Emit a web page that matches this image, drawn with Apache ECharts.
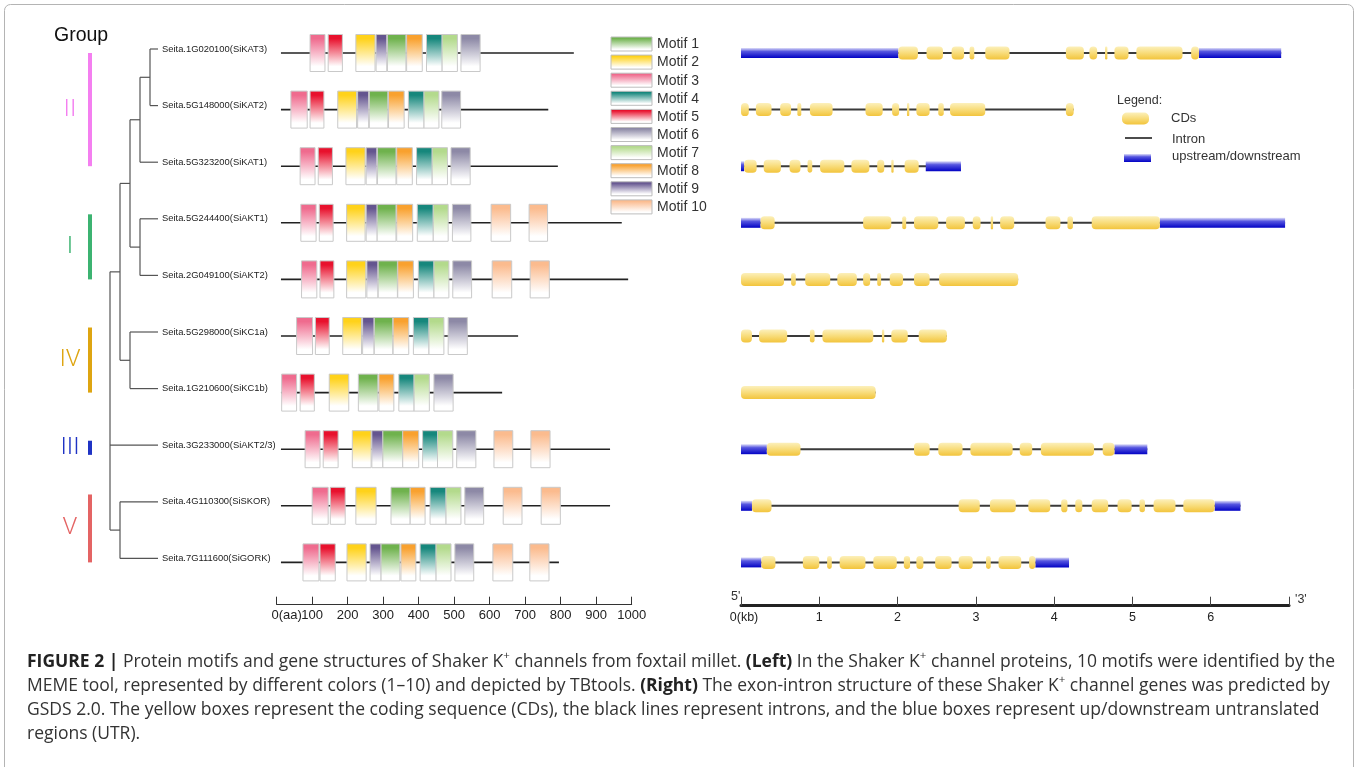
<!DOCTYPE html>
<html lang="en">
<head>
<meta charset="UTF-8">
<title>Shaker K+ channels: motifs and gene structures</title>
<script src="https://cdn.jsdelivr.net/npm/echarts@6/dist/echarts.min.js"></script>
<style>
  html, body { margin: 0; padding: 0; background: #fff; }
  #chart { width: 1360px; height: 767px; }
</style>
</head>
<body>
<div id="chart"></div>
<script>
// genes, top to bottom (same order in tree, motifs and gene structures)
const geneNames = [
  'Seita.1G020100(SiKAT3)', 'Seita.5G148000(SiKAT2)', 'Seita.5G323200(SiKAT1)',
  'Seita.5G244400(SiAKT1)', 'Seita.2G049100(SiAKT2)', 'Seita.5G298000(SiKC1a)',
  'Seita.1G210600(SiKC1b)', 'Seita.3G233000(SiAKT2/3)', 'Seita.4G110300(SiSKOR)',
  'Seita.7G111600(SiGORK)'
];

// groups: row span of the coloured bar
const groupNames = ['II', 'I', 'IV', 'III', 'V'];
const groupColors = ['#f47ff0', '#3cb371', '#dea511', '#1f33c4', '#e46464'];
const groupFrom = [0, 2.85, 4.85, 6.85, 7.8];
const groupTo = [2, 4, 6, 7.1, 9];

// tree: numbers are leaf rows, d = node depth (root = 0)
const tree = {d: 0, c: [
  {d: 1, c: [
    {d: 2, c: [
      {d: 3, c: [{d: 4, c: [0, 1]}, 2]},
      {d: 3, c: [3, 4]}
    ]},
    {d: 2, c: [5, 6]}
  ]},
  7,
  {d: 1, c: [8, 9]}
]};
const leafDepth = 4.8;

// motifs
const motifNames = ['Motif 1', 'Motif 2', 'Motif 3', 'Motif 4', 'Motif 5',
                    'Motif 6', 'Motif 7', 'Motif 8', 'Motif 9', 'Motif 10'];
const motifColors = ['#6fb24d', '#ffd21a', '#ef6b8e', '#16877c', '#e8112d',
                     '#8d89a6', '#b3da8c', '#f9a12e', '#64558f', '#fbbb8e'];
const proteinStart = 12;
const proteinLen = [837, 765, 792, 972, 990, 680, 635, 939, 939, 795];
// [motif, start aa, end aa] per protein
const motifHits = [
  [[3,94,136],[5,145,185],[2,223,277],[9,280,310],[1,312,364],[8,366,410],[4,422,466],[7,466,509],[6,519,573]],
  [[3,40,86],[5,94,133],[2,172,225],[9,228,259],[1,261,313],[8,315,359],[4,371,415],[7,415,457],[6,465,518]],
  [[3,66,108],[5,117,157],[2,195,249],[9,252,282],[1,284,336],[8,338,382],[4,394,438],[7,438,481],[6,491,545]],
  [[3,68,111],[5,120,159],[2,197,249],[9,252,283],[1,283,336],[8,338,383],[4,396,441],[7,441,483],[6,495,547],[10,604,659],[10,711,763]],
  [[3,70,113],[5,122,161],[2,197,251],[9,254,285],[1,286,340],[8,341,385],[4,399,443],[7,443,485],[6,496,549],[10,607,662],[10,714,768]],
  [[3,56,101],[5,109,148],[2,186,239],[9,242,274],[1,275,327],[8,328,372],[4,385,429],[7,429,471],[6,483,537]],
  [[3,14,56],[5,66,106],[2,148,203],[1,230,285],[8,288,330],[4,344,387],[7,387,430],[6,443,497]],
  [[3,80,122],[5,131,173],[2,213,266],[9,268,299],[1,299,355],[8,355,400],[4,411,453],[7,453,496],[6,507,561],[10,612,665],[10,716,770]],
  [[3,100,145],[5,151,193],[2,223,280],[1,322,376],[8,376,418],[4,432,477],[7,477,519],[6,530,583],[10,638,691],[10,745,799]],
  [[3,74,119],[5,122,165],[2,198,252],[9,263,294],[1,294,347],[8,350,392],[4,404,449],[7,449,491],[6,502,555],[10,609,665],[10,713,767]]
];

// gene structures (kb)
const geneLen = [6.90, 4.25, 2.81, 6.95, 3.54, 2.63, 1.72, 5.19, 6.38, 4.19];
const utrParts = [
  [[0,2.01],[5.85,6.90]], [], [[0,0.04],[2.36,2.81]], [[0,0.25],[5.35,6.95]], [], [], [],
  [[0,0.33],[4.77,5.19]], [[0,0.14],[6.05,6.38]], [[0,0.26],[3.76,4.19]]
];
const cdsParts = [
  [[2.01,2.26],[2.37,2.58],[2.69,2.85],[2.92,2.98],[3.12,3.43],[4.15,4.38],[4.45,4.55],[4.65,4.68],[4.77,4.95],[5.05,5.64],[5.75,5.85]],
  [[0,0.10],[0.19,0.39],[0.50,0.64],[0.72,0.77],[0.88,1.17],[1.59,1.81],[1.93,2.02],[2.12,2.15],[2.24,2.41],[2.52,2.59],[2.67,3.12],[4.15,4.25]],
  [[0.04,0.20],[0.29,0.51],[0.62,0.76],[0.85,0.91],[1.01,1.32],[1.41,1.64],[1.74,1.83],[1.92,1.95],[2.09,2.27]],
  [[0.25,0.43],[1.56,1.92],[2.06,2.11],[2.21,2.52],[2.62,2.86],[2.96,3.06],[3.19,3.22],[3.31,3.49],[3.89,4.08],[4.17,4.24],[4.48,5.35]],
  [[0,0.55],[0.64,0.70],[0.82,1.14],[1.23,1.48],[1.56,1.65],[1.74,1.79],[1.90,2.07],[2.21,2.41],[2.53,3.54]],
  [[0,0.14],[0.23,0.59],[0.88,0.94],[1.04,1.69],[1.80,1.83],[1.92,2.13],[2.27,2.63]],
  [[0,1.72]],
  [[0.33,0.76],[2.21,2.41],[2.52,2.83],[2.93,3.47],[3.56,3.72],[3.83,4.51],[4.62,4.77]],
  [[0.14,0.39],[2.78,3.05],[3.18,3.51],[3.67,3.95],[4.09,4.17],[4.27,4.36],[4.48,4.69],[4.81,4.99],[5.09,5.16],[5.27,5.55],[5.65,6.05]],
  [[0.26,0.44],[0.79,1.00],[1.10,1.16],[1.26,1.59],[1.69,1.99],[2.08,2.16],[2.24,2.33],[2.48,2.69],[2.78,2.96],[3.13,3.19],[3.29,3.58],[3.68,3.76]]
];

const FONT = 'Liberation Sans, Arial, Helvetica, sans-serif';
const CAP_FONT = 'Open Sans, Liberation Sans, Arial, sans-serif';
const LG = echarts.graphic.LinearGradient;

function motifFill(c) {
  return new LG(0, 0, 0, 1, [
    {offset: 0, color: c}, {offset: 0.12, color: c},
    {offset: 0.85, color: '#ffffff'}, {offset: 1, color: '#ffffff'}
  ]);
}
const cdsFill = () => new LG(0, 0, 0, 1, [
  {offset: 0, color: '#fcf0bb'}, {offset: 0.5, color: '#f8dc7a'}, {offset: 1, color: '#f2c43c'}
]);
const utrFill = () => new LG(0, 0, 0, 1, [
  {offset: 0, color: '#dedef8'}, {offset: 0.35, color: '#5656e0'}, {offset: 1, color: '#0202c4'}
]);

// flatten tree into line segments [x1, y1, x2, y2]
const treeSegs = [];
function walk(n) {
  if (typeof n === 'number') return n;
  const ys = n.c.map(walk);
  n.c.forEach((ch, i) => {
    const cx = typeof ch === 'number' ? leafDepth : ch.d;
    treeSegs.push([n.d, ys[i], cx, ys[i]]);
  });
  treeSegs.push([n.d, ys[0], n.d, ys[ys.length - 1]]);
  return (ys[0] + ys[ys.length - 1]) / 2;
}
walk(tree);

// series data
const proteinData = proteinLen.map((len, r) => [proteinStart, r, len]);
const motifData = [];
motifHits.forEach((hits, r) => hits.forEach(h => motifData.push([h[1], r, h[2], h[0]])));
const intronData = geneLen.map((len, r) => [0, r, len]);
const utrData = [];
utrParts.forEach((parts, r) => parts.forEach(p => utrData.push([p[0], r, p[1]])));
const cdsData = [];
cdsParts.forEach((parts, r) => parts.forEach(p => cdsData.push([p[0], r, p[1]])));
const leafData = geneNames.map((n, r) => [leafDepth, r]);
const groupData = groupNames.map((n, i) => [0, groupFrom[i], 1, groupTo[i]]);

const rowAxis = g => ({gridIndex: g, type: 'value', min: -0.5, max: 9.5, inverse: true, show: false});

function spanRect(api, h) {
  const p0 = api.coord([api.value(0), api.value(1)]);
  const p1 = api.coord([api.value(2), api.value(1)]);
  return {x: p0[0], y: p0[1] - h / 2, width: Math.max(p1[0] - p0[0], 1), height: h};
}
function spanLine(api) {
  const p0 = api.coord([api.value(0), api.value(1)]);
  const p1 = api.coord([api.value(2), api.value(1)]);
  return {x1: p0[0], y1: p0[1], x2: p1[0], y2: p1[1]};
}

const chart = echarts.init(document.getElementById('chart'), null, {renderer: 'canvas'});

const captionText = [
  '{b|FIGURE 2 |} Protein motifs and gene structures of Shaker K{s|+} channels from foxtail millet. {b|(Left)} In the Shaker K{s|+} channel proteins, 10 motifs were identified by the',
  'MEME tool, represented by different colors (1–10) and depicted by TBtools. {b|(Right)} The exon-intron structure of these Shaker K{s|+} channel genes was predicted by',
  'GSDS 2.0. The yellow boxes represent the coding sequence (CDs), the black lines represent introns, and the blue boxes represent up/downstream untranslated',
  'regions (UTR).'
].join('\n');

const graphics = [
  {type: 'rect', z: -1, shape: {x: 4.5, y: 4.5, width: 1349, height: 800, r: 6},
   style: {fill: 'none', stroke: '#b4b4b4', lineWidth: 1}},
  {type: 'text', x: 54, y: 36, style: {text: 'Group', fontSize: 19.5, fontFamily: FONT, fill: '#111', verticalAlign: 'middle'}},
  // gene structure legend
  {type: 'text', x: 1117, y: 101, style: {text: 'Legend:', fontSize: 12.5, fontFamily: FONT, fill: '#333', verticalAlign: 'middle'}},
  {type: 'rect', shape: {x: 1122, y: 112.5, width: 27, height: 12, r: 5}, style: {fill: cdsFill()}},
  {type: 'text', x: 1171, y: 118, style: {text: 'CDs', fontSize: 13, fontFamily: FONT, fill: '#333', verticalAlign: 'middle'}},
  {type: 'line', shape: {x1: 1125, y1: 138, x2: 1152, y2: 138}, style: {stroke: '#111', lineWidth: 1.5}},
  {type: 'text', x: 1172, y: 139, style: {text: 'Intron', fontSize: 13, fontFamily: FONT, fill: '#333', verticalAlign: 'middle'}},
  {type: 'rect', shape: {x: 1124, y: 154, width: 27, height: 8}, style: {fill: utrFill()}},
  {type: 'text', x: 1172, y: 156.5, style: {text: 'upstream/downstream', fontSize: 13, fontFamily: FONT, fill: '#333', verticalAlign: 'middle'}},
  // 5' / 3' marks on the kb scale
  {type: 'text', x: 731, y: 597, style: {text: "5'", fontSize: 12.5, fontFamily: FONT, fill: '#333', verticalAlign: 'middle'}},
  {type: 'text', x: 1295, y: 600, style: {text: "'3'", fontSize: 12.5, fontFamily: FONT, fill: '#333', verticalAlign: 'middle'}},
  // caption
  {type: 'text', x: 27, y: 650, style: {
    text: captionText, fontSize: 17.5, fontFamily: CAP_FONT, fill: '#333', lineHeight: 24,
    rich: {
      b: {fontSize: 17.5, fontWeight: 'bold', fontFamily: CAP_FONT, fill: '#222', lineHeight: 24},
      s: {fontSize: 11.5, fontFamily: CAP_FONT, fill: '#333', lineHeight: 14, verticalAlign: 'top'}
    }
  }}
];
// motif legend
motifNames.forEach((n, i) => {
  graphics.push({type: 'group', x: 611, y: 37 + i * 18.1, children: [
    {type: 'rect', shape: {x: 0, y: 0, width: 41, height: 14}, style: {fill: motifFill(motifColors[i]), stroke: '#bdbdbd', lineWidth: 1}},
    {type: 'text', x: 46, y: 7.5, style: {text: n, fontSize: 14, fontFamily: FONT, fill: '#333', verticalAlign: 'middle'}}
  ]});
});

const option = {
  animation: false,
  backgroundColor: '#ffffff',
  textStyle: {fontFamily: FONT},
  grid: [
    {left: 276.7, top: 24.7, width: 355, height: 566},  // motifs
    {left: 741, top: 24.7, width: 548, height: 566},    // gene structures
    {left: 110, top: 20.7, width: 48, height: 566},     // tree
    {left: 88, top: 24.7, width: 4, height: 566},       // group bars
    {left: 276.7, top: 24.7, width: 355, height: 566}   // unit label of the aa scale
  ],
  xAxis: [
    {gridIndex: 0, type: 'value', min: 0, max: 1000, interval: 100, offset: 14, position: 'bottom',
     axisLine: {show: true, onZero: false, lineStyle: {color: '#333', width: 1}},
     axisTick: {show: true, inside: true, length: 8, lineStyle: {color: '#333'}},
     splitLine: {show: false},
     axisLabel: {fontSize: 13, color: '#222', margin: 4, showMaxLabel: true,
       formatter: v => v === 0 ? '' : String(v)}},
    {gridIndex: 1, type: 'value', min: 0, max: 7, interval: 1, offset: 15, position: 'bottom',
     axisLine: {show: true, onZero: false, lineStyle: {color: '#222', width: 3}},
     axisTick: {show: true, inside: true, length: 9, lineStyle: {color: '#444', width: 1}},
     splitLine: {show: false},
     axisLabel: {fontSize: 12.5, color: '#222', margin: 5, showMinLabel: true,
       formatter: v => v === 0 ? '{z|0(kb)}' : (v === 7 ? '' : String(v)),
       rich: {z: {fontSize: 12.5, color: '#222', padding: [0, 0, 0, 6]}}}},
    {gridIndex: 2, type: 'value', min: 0, max: leafDepth, show: false},
    {gridIndex: 3, type: 'value', min: 0, max: 1, show: false},
    {gridIndex: 4, type: 'value', min: 0, max: 1000, interval: 1000, offset: 14, position: 'bottom',
     axisLine: {show: false, onZero: false}, axisTick: {show: false}, splitLine: {show: false},
     axisLabel: {fontSize: 13, color: '#222', margin: 4, showMinLabel: true,
       formatter: v => v === 0 ? '{z|0(aa)}' : '',
       rich: {z: {fontSize: 13, color: '#222', padding: [0, 0, 0, 20]}}}}
  ],
  yAxis: [rowAxis(0), rowAxis(1), rowAxis(2), rowAxis(3), rowAxis(4)],
  graphic: graphics,
  series: [
    {
      type: 'custom', name: 'tree', xAxisIndex: 2, yAxisIndex: 2, data: treeSegs,
      renderItem: (params, api) => {
        const p0 = api.coord([api.value(0), api.value(1)]);
        const p1 = api.coord([api.value(2), api.value(3)]);
        return {type: 'line', shape: {x1: p0[0], y1: p0[1], x2: p1[0], y2: p1[1]},
                style: {stroke: '#555', lineWidth: 1.2}};
      }
    },
    {
      type: 'custom', name: 'leaves', xAxisIndex: 2, yAxisIndex: 2, data: leafData,
      renderItem: (params, api) => {
        const p = api.coord([api.value(0), api.value(1)]);
        return {type: 'text', x: p[0] + 4, y: p[1], style: {
          text: geneNames[params.dataIndex], fontSize: 9.4, fontFamily: FONT, fill: '#222', verticalAlign: 'middle'}};
      }
    },
    {
      type: 'custom', name: 'groups', xAxisIndex: 3, yAxisIndex: 3, data: groupData,
      renderItem: (params, api) => {
        const p0 = api.coord([api.value(0), api.value(1)]);
        const p1 = api.coord([api.value(2), api.value(3)]);
        const c = groupColors[params.dataIndex];
        return {type: 'group', children: [
          {type: 'rect', shape: {x: p0[0], y: p0[1], width: p1[0] - p0[0], height: p1[1] - p0[1]}, style: {fill: c}},
          {type: 'text', x: p0[0] - 18, y: (p0[1] + p1[1]) / 2, style: {
            text: groupNames[params.dataIndex], fontSize: 24, fontFamily: 'Roboto, ' + FONT, fontWeight: 300,
            fill: c, align: 'center', verticalAlign: 'middle'}}
        ]};
      }
    },
    {
      type: 'custom', name: 'protein', xAxisIndex: 0, yAxisIndex: 0, data: proteinData,
      renderItem: (params, api) => ({type: 'line', shape: spanLine(api), style: {stroke: '#222', lineWidth: 1.6}})
    },
    {
      type: 'custom', name: 'motifs', xAxisIndex: 0, yAxisIndex: 0, data: motifData,
      renderItem: (params, api) => ({type: 'rect', shape: spanRect(api, 37),
        style: {fill: motifFill(motifColors[api.value(3) - 1]), stroke: '#c9c9c9', lineWidth: 1}})
    },
    {
      type: 'custom', name: 'Intron', xAxisIndex: 1, yAxisIndex: 1, data: intronData,
      renderItem: (params, api) => ({type: 'line', shape: spanLine(api), style: {stroke: '#3a3a3a', lineWidth: 2}})
    },
    {
      type: 'custom', name: 'upstream/downstream', xAxisIndex: 1, yAxisIndex: 1, data: utrData,
      renderItem: (params, api) => ({type: 'rect', shape: spanRect(api, 10), style: {fill: utrFill()}})
    },
    {
      type: 'custom', name: 'CDs', xAxisIndex: 1, yAxisIndex: 1, data: cdsData,
      renderItem: (params, api) => {
        const s = spanRect(api, 13);
        s.r = 4;
        return {type: 'rect', shape: s, style: {fill: cdsFill()}};
      }
    }
  ]
};

chart.setOption(option);
</script>
</body>
</html>
